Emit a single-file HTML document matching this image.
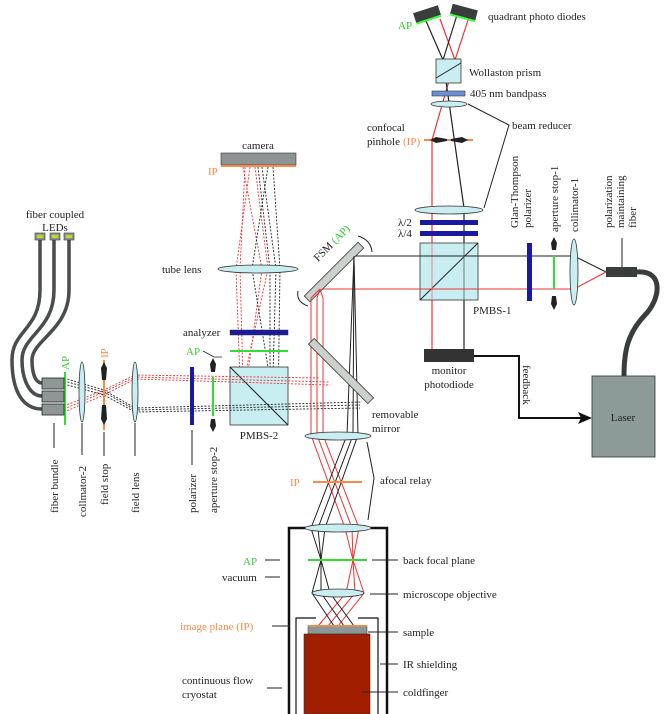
<!DOCTYPE html>
<html><head><meta charset="utf-8"><style>
html,body{margin:0;padding:0;background:#fff;}
svg{display:block;font-family:"Liberation Serif",serif;font-size:11px;}
.t{fill:#222;}
</style></head><body>
<svg width="670" height="714" viewBox="0 0 670 714" xmlns="http://www.w3.org/2000/svg">
<g stroke-width="1.2" fill="none">
<line x1="432" y1="356" x2="432" y2="140" stroke="#e33"/>
<line x1="432" y1="140" x2="455" y2="60" stroke="#e33"/>
<line x1="455" y1="60" x2="469" y2="17" stroke="#e33"/>
<line x1="455" y1="60" x2="440" y2="19" stroke="#e33"/>
<line x1="464" y1="350" x2="464" y2="208" stroke="#222"/>
<line x1="464" y1="208" x2="443" y2="60" stroke="#222"/>
<line x1="443" y1="60" x2="426" y2="21" stroke="#222"/>
<line x1="443" y1="60" x2="457" y2="15" stroke="#222"/>
</g>
<g transform="translate(427,14) rotate(-18)"><rect x="-13" y="-5" width="26" height="10" fill="#3a3d3d"/><rect x="-13" y="5" width="26" height="2" fill="#3f3"/></g>
<g transform="translate(464,12) rotate(15)"><rect x="-13" y="-5" width="26" height="10" fill="#3a3d3d"/><rect x="-13" y="5" width="26" height="2" fill="#3f3"/></g>
<text x="398" y="29" fill="#2c2" font-size="11">AP</text>
<text x="488" y="20" class="t">quadrant photo diodes</text>
<rect x="436" y="59" width="25" height="24" fill="#c8eef2" stroke="#333" stroke-width="0.8"/>
<line x1="436" y1="78" x2="461" y2="63" stroke="#222"/>
<text x="469" y="76" class="t">Wollaston prism</text>
<rect x="432" y="91" width="33" height="5" fill="#6a90d8" stroke="#333" stroke-width="0.6"/>
<text x="470" y="97" class="t">405 nm bandpass</text>
<ellipse cx="449" cy="104" rx="18" ry="3" fill="#c8eef2" stroke="#333" stroke-width="0.8"/>
<polyline points="468,104 509,125 484,208" fill="none" stroke="#222" stroke-width="1"/>
<text x="512" y="129" class="t">beam reducer</text>
<text x="367" y="131" class="t">confocal</text>
<text x="367" y="145" class="t">pinhole</text>
<text x="403" y="145" fill="#f84">(IP)</text>
<line x1="424" y1="140" x2="473" y2="140" stroke="#f84" stroke-width="2"/>
<path d="M430 140 L436 137 L447 139 L447 141 L436 143 Z M468 140 L462 137 L451 139 L451 141 L462 143 Z" fill="#222"/>
<ellipse cx="449" cy="210" rx="34" ry="4" fill="#c8eef2" stroke="#333" stroke-width="0.8"/>
<text x="398" y="226" class="t">λ/2</text>
<text x="398" y="237" class="t">λ/4</text>
<rect x="420" y="220" width="58" height="5" fill="#1a1aa0"/>
<rect x="420" y="231" width="58" height="5" fill="#1a1aa0"/>
<rect x="420" y="243" width="58" height="57" fill="#c8eef2" stroke="#333" stroke-width="0.8"/>
<line x1="420" y1="300" x2="478" y2="243" stroke="#222"/>
<line x1="432" y1="243" x2="432" y2="300" stroke="#e88" stroke-width="1"/>
<line x1="464" y1="243" x2="464" y2="300" stroke="#777" stroke-width="1"/>
<text x="473" y="314" class="t">PMBS-1</text>
<line x1="354" y1="256" x2="574" y2="256" stroke="#222" stroke-width="1"/>
<line x1="320" y1="289" x2="574" y2="289" stroke="#e33" stroke-width="1"/>
<line x1="574" y1="256" x2="606" y2="272" stroke="#222"/>
<line x1="574" y1="289" x2="606" y2="272" stroke="#e33"/>
<rect x="527" y="243" width="5" height="58" fill="#1a1aa0"/>
<text transform="translate(518,228) rotate(-90)" class="t">Glan-Thompson</text>
<text transform="translate(531,228) rotate(-90)" class="t">polarizer</text>
<line x1="554" y1="256" x2="554" y2="289" stroke="#3d3" stroke-width="2"/>
<path d="M554 237 L557 243 L556 250 L552 250 L551 243 Z M554 310 L557 304 L556 296 L552 296 L551 304 Z" fill="#222"/>
<text transform="translate(558,232) rotate(-90)" class="t">aperture stop-1</text>
<ellipse cx="574" cy="272" rx="4" ry="33" fill="#c8eef2" stroke="#333" stroke-width="0.8"/>
<text transform="translate(578,232) rotate(-90)" class="t">collimator-1</text>
<rect x="606" y="267" width="31" height="10" fill="#3a3d3d"/>
<line x1="622" y1="238" x2="622" y2="267" stroke="#222"/>
<text transform="translate(612,228) rotate(-90)" class="t">polarization</text>
<text transform="translate(624,228) rotate(-90)" class="t">maintaining</text>
<text transform="translate(636,228) rotate(-90)" class="t">fiber</text>
<path d="M637 272 C665 270 660 300 645 315 C628 333 624 350 624 376" fill="none" stroke="#3a3d3d" stroke-width="5"/>
<rect x="592" y="376" width="63" height="81" fill="#8c9a98" stroke="#333" stroke-width="0.8"/>
<text x="623" y="421" text-anchor="middle" class="t">Laser</text>
<rect x="424" y="349" width="50" height="13" fill="#333"/>
<text x="449" y="374" text-anchor="middle" class="t">monitor</text>
<text x="449" y="388" text-anchor="middle" class="t">photodiode</text>
<polyline points="474,356 519,356 519,418 582,418" fill="none" stroke="#111" stroke-width="2"/>
<path d="M592 418 L578 412 L581 418 L578 424 Z" fill="#111"/>
<text transform="translate(523,365) rotate(90)" class="t">feedback</text>
<g transform="translate(334,272) rotate(-45)"><rect x="-38" y="-4" width="76" height="8" fill="#ccd0cc" stroke="#333" stroke-width="0.8"/></g>
<text transform="translate(318,262) rotate(-45)" class="t">FSM <tspan fill="#3c3">(AP)</tspan></text>
<path d="M358 236 Q371 240 372 252" fill="none" stroke="#222"/>
<path d="M298 291 Q296 302 308 306" fill="none" stroke="#222"/>
<rect x="221" y="153" width="75" height="12" fill="#8e9494" stroke="#333" stroke-width="0.6"/>
<rect x="221" y="165" width="75" height="2" fill="#f84"/>
<text x="258" y="149" text-anchor="middle" class="t">camera</text>
<text x="208" y="175" fill="#f84">IP</text>
<g stroke-dasharray="2,1.5" stroke-width="0.9" fill="none">
<path d="M245 167 L240 269 L243 380" stroke="#e33"/><path d="M250 167 L236 269 L240 380" stroke="#e33"/>
<path d="M255 167 L268 269 L244 380" stroke="#e33"/><path d="M243 167 L262 269 L247 380" stroke="#e33"/>
<path d="M262 167 L276 269 L272 410" stroke="#222"/><path d="M268 167 L252 269 L275 410" stroke="#222"/>
<path d="M273 167 L280 269 L278 410" stroke="#222"/><path d="M258 167 L270 269 L270 410" stroke="#222"/>
</g>
<ellipse cx="258" cy="269" rx="40" ry="4" fill="#c8eef2" stroke="#333" stroke-width="0.8"/>
<text x="162" y="273" class="t">tube lens</text>
<rect x="230" y="330" width="58" height="5" fill="#1a1aa0" stroke="#333" stroke-width="0.5"/>
<text x="183" y="336" class="t">analyzer</text>
<rect x="230" y="350" width="58" height="2" fill="#3d3"/>
<text x="186" y="355" fill="#3c3">AP</text>
<polyline points="203,351 214,357 222,357" fill="none" stroke="#222" stroke-width="0.8"/>
<rect x="230" y="367" width="58" height="58" fill="#c8eef2" stroke="#333" stroke-width="0.8"/>
<line x1="230" y1="367" x2="288" y2="425" stroke="#222"/>
<text x="259" y="439" text-anchor="middle" class="t">PMBS-2</text>
<g stroke-dasharray="2,1.5" stroke-width="0.9" fill="none">
<path d="M64 409 L104 392 L135 377 L330 382" stroke="#e33"/>
<path d="M64 412 L104 395 L135 379 L330 385" stroke="#e33"/>
<path d="M64 406 L104 390 L135 375 L320 378" stroke="#e33"/>
<path d="M64 381 L104 392 L135 410 L360 405" stroke="#222"/>
<path d="M64 384 L104 395 L135 412 L360 408" stroke="#222"/>
<path d="M64 378 L104 390 L135 408 L362 402" stroke="#222"/>
</g>
<rect x="190" y="367" width="4" height="58" fill="#1a1aa0"/>
<line x1="213" y1="377" x2="213" y2="416" stroke="#3d3" stroke-width="2"/>
<path d="M213 358 L216 364 L215 372 L211 372 L210 364 Z M213 432 L216 426 L215 419 L211 419 L210 426 Z" fill="#222"/>
<ellipse cx="135" cy="392" rx="3" ry="30" fill="#c8eef2" stroke="#333" stroke-width="0.8"/>
<line x1="104" y1="360" x2="104" y2="430" stroke="#f84" stroke-width="2"/>
<path d="M104 362 L107 368 L106 380 L102 380 L101 368 Z M104 425 L107 419 L106 405 L102 405 L101 419 Z" fill="#222"/>
<text transform="translate(108,358) rotate(-90)" fill="#f84">IP</text>
<ellipse cx="82" cy="392" rx="3" ry="30" fill="#c8eef2" stroke="#333" stroke-width="0.8"/>
<line x1="65" y1="372" x2="65" y2="425" stroke="#3d3" stroke-width="2"/>
<text transform="translate(69,370) rotate(-90)" fill="#3c3">AP</text>
<g fill="none" stroke="#4a4d4d" stroke-width="3.5">
<path d="M40 240 L40 290 C40 330 12 330 12 360 C12 390 22 409 42 409"/>
<path d="M54 240 L54 290 C54 330 22 335 22 360 C22 380 30 396 42 396"/>
<path d="M69 240 L69 290 C69 330 32 340 32 360 C32 375 36 383 42 383"/>
</g>
<rect x="42" y="378" width="22" height="11" fill="#8e9696" stroke="#222" stroke-width="0.8"/>
<rect x="42" y="391" width="22" height="11" fill="#8e9696" stroke="#222" stroke-width="0.8"/>
<rect x="42" y="404" width="22" height="11" fill="#8e9696" stroke="#222" stroke-width="0.8"/>
<rect x="35" y="233" width="10" height="7" fill="#8e9696" stroke="#333" stroke-width="0.6"/><rect x="37" y="235" width="6" height="3" fill="#bd1"/>
<rect x="50" y="233" width="10" height="7" fill="#8e9696" stroke="#333" stroke-width="0.6"/><rect x="52" y="235" width="6" height="3" fill="#bd1"/>
<rect x="64" y="233" width="10" height="7" fill="#8e9696" stroke="#333" stroke-width="0.6"/><rect x="66" y="235" width="6" height="3" fill="#bd1"/>
<text x="55" y="218" text-anchor="middle" class="t">fiber coupled</text>
<text x="55" y="231" text-anchor="middle" class="t">LEDs</text>
<g stroke="#222" stroke-width="1">
<line x1="54" y1="423" x2="54" y2="448"/><line x1="82" y1="423" x2="82" y2="455"/>
<line x1="104" y1="432" x2="104" y2="456"/><line x1="135" y1="423" x2="135" y2="456"/>
<line x1="192" y1="430" x2="192" y2="465"/>
</g>
<text transform="translate(58,513) rotate(-90)" class="t">fiber bundle</text>
<text transform="translate(86,517) rotate(-90)" class="t">collmator-2</text>
<text transform="translate(108,505) rotate(-90)" class="t">field stop</text>
<text transform="translate(139,513) rotate(-90)" class="t">field lens</text>
<text transform="translate(196,513) rotate(-90)" class="t">polarizer</text>
<text transform="translate(217,513) rotate(-90)" class="t">aperture stop-2</text>
<!-- relay rays -->
<g fill="none" stroke-width="1">
<path d="M320 289 L311 298 L311 435 L345 528 L353 560 L346 593 L318 626" stroke="#e33"/>
<path d="M320 289 L317 298 L317 435 L352 528 L353 560 L355 593 L328 626" stroke="#e33"/>
<path d="M320 289 L323 298 L323 435 L359 528 L353 560 L364 593 L338 626" stroke="#e33"/>
<path d="M354 256 L347 435 L311 528 L321 560 L312 593 L334 626" stroke="#222"/>
<path d="M354 256 L353 435 L318 528 L321 560 L321 593 L344 626" stroke="#222"/>
<path d="M354 256 L358 435 L325 528 L321 560 L330 593 L354 626" stroke="#222"/>
</g>
<g transform="translate(341,371) rotate(45)"><rect x="-42" y="-4" width="84" height="8" fill="#ccd0cc" stroke="#333" stroke-width="0.8"/></g>
<text x="372" y="418" class="t">removable</text>
<text x="372" y="432" class="t">mirror</text>
<ellipse cx="338" cy="436" rx="33" ry="4" fill="#c8eef2" stroke="#333" stroke-width="0.8"/>
<line x1="313" y1="482" x2="362" y2="482" stroke="#f84" stroke-width="2"/>
<text x="290" y="486" fill="#f84">IP</text>
<polyline points="367,442 374,478 368,520" fill="none" stroke="#222"/>
<text x="380" y="484" class="t">afocal relay</text>
<polyline points="289,714 289,528 387,528 387,714" fill="none" stroke="#111" stroke-width="2.5"/>
<ellipse cx="338" cy="528" rx="33" ry="4" fill="#c8eef2" stroke="#333" stroke-width="0.8"/>
<line x1="308" y1="560" x2="367" y2="560" stroke="#3d3" stroke-width="2"/>
<text x="243" y="565" fill="#3c3">AP</text>
<line x1="265" y1="560" x2="280" y2="560" stroke="#222"/>
<line x1="372" y1="560" x2="398" y2="560" stroke="#222"/>
<text x="403" y="564" class="t">back focal plane</text>
<text x="222" y="581" class="t">vacuum</text>
<line x1="265" y1="577" x2="280" y2="577" stroke="#222"/>
<ellipse cx="338" cy="593" rx="26" ry="4" fill="#c8eef2" stroke="#333" stroke-width="0.8"/>
<line x1="370" y1="594" x2="398" y2="594" stroke="#222"/>
<text x="403" y="598" class="t">microscope objective</text>
<g fill="none" stroke="#111" stroke-width="1.2">
<polyline points="296,714 296,618 316,618"/><polyline points="378,714 378,618 358,618"/>
</g>
<rect x="308" y="626" width="59" height="8" fill="#8e9696" stroke="#333" stroke-width="0.5"/>
<rect x="308" y="625" width="59" height="1.5" fill="#f84"/>
<rect x="304" y="634" width="66" height="80" fill="#a21e00" stroke="#333" stroke-width="0.6"/>
<text x="180" y="630" fill="#f84">image plane (IP)</text>
<line x1="272" y1="626" x2="290" y2="626" stroke="#222"/>
<line x1="368" y1="632" x2="398" y2="632" stroke="#222"/>
<text x="403" y="636" class="t">sample</text>
<line x1="380" y1="664" x2="398" y2="664" stroke="#222"/>
<text x="403" y="668" class="t">IR shielding</text>
<line x1="362" y1="692" x2="398" y2="692" stroke="#222"/>
<text x="403" y="696" class="t">coldfinger</text>
<text x="182" y="684" class="t">continuous flow</text>
<text x="182" y="698" class="t">cryostat</text>
<line x1="267" y1="688" x2="282" y2="688" stroke="#222"/>
</svg>
</body></html>
